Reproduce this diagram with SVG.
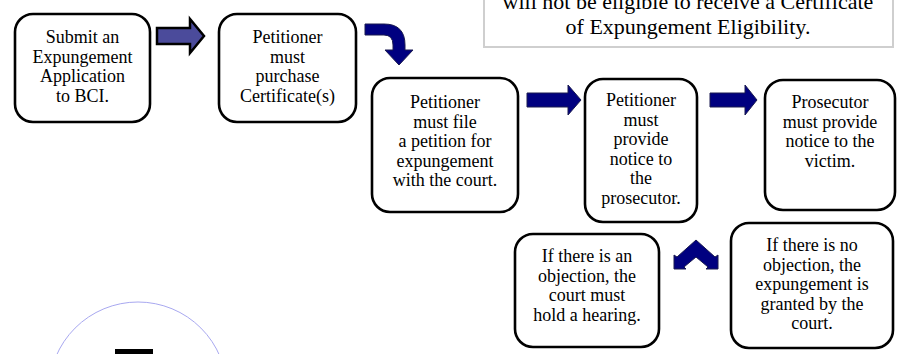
<svg xmlns="http://www.w3.org/2000/svg" width="897" height="354" viewBox="0 0 897 354">
<style>
.box{fill:#fff;stroke:#000;stroke-width:2.6}
.t{font-family:"Liberation Serif","Times New Roman",serif;font-size:18px;fill:#000;text-anchor:middle}
.tb{font-family:"Liberation Serif","Times New Roman",serif;font-size:22px;fill:#000;text-anchor:middle}
.nav{fill:#000080;stroke:#1a1a50;stroke-width:1}
</style>
<rect width="897" height="354" fill="#fff"/>
<g id="note">
<rect x="484" y="-10" width="409" height="57" fill="#fff" stroke="#cfcfcf" stroke-width="2"/>
<text class="tb" x="688" y="9">will not be eligible to receive a Certificate</text>
<text class="tb" x="688" y="34">of Expungement Eligibility.</text>
</g>
<g id="circle">
<circle cx="138" cy="391" r="89" fill="none" stroke="#a8a8f0" stroke-width="1"/>
<rect x="115" y="349" width="38" height="6" fill="#000"/>
</g>
<g id="connectors">
<polygon points="157,28 190,28 190,19 204,36 190,53 190,44 157,44" fill="#4b4b9b" stroke="#000" stroke-width="2.5" stroke-linejoin="miter"/>
<path class="nav" d="M365,24 H384 Q405,24 405,45 V50 H413 L399,65 L385,50 H393 V45 Q393,35 384,35 H365 Z"/>
<polygon class="nav" points="527,93 568,93 568,85 581,100 568,115 568,107 527,107"/>
<polygon class="nav" points="710,93 745,93 745,85 757,100 745,115 745,107 710,107"/>
<polygon class="nav" points="696,240 715,257 718,255 718,269 706,269 708,267 696,257 684,267 686,269 674,269 674,255 677,257"/>
</g>
<g id="n1">
<rect class="box" x="15" y="14" width="135" height="108" rx="18"/>
<text class="t" x="82.5" y="43">Submit an</text>
<text class="t" x="82.5" y="62.5">Expungement</text>
<text class="t" x="82.5" y="82">Application</text>
<text class="t" x="82.5" y="101.5">to BCI.</text>
</g>
<g id="n2">
<rect class="box" x="219" y="14" width="137" height="108" rx="18"/>
<text class="t" x="287.5" y="43">Petitioner</text>
<text class="t" x="287.5" y="62.5">must</text>
<text class="t" x="287.5" y="82">purchase</text>
<text class="t" x="287.5" y="101.5">Certificate(s)</text>
</g>
<g id="n3">
<rect class="box" x="372" y="78" width="146" height="134" rx="18"/>
<text class="t" x="445" y="108">Petitioner</text>
<text class="t" x="445" y="127.5">must file</text>
<text class="t" x="445" y="147">a petition for</text>
<text class="t" x="445" y="166.5">expungement</text>
<text class="t" x="445" y="186">with the court.</text>
</g>
<g id="n4">
<rect class="box" x="585" y="79" width="112" height="143" rx="18"/>
<text class="t" x="641" y="106">Petitioner</text>
<text class="t" x="641" y="125.5">must</text>
<text class="t" x="641" y="145">provide</text>
<text class="t" x="641" y="164.5">notice to</text>
<text class="t" x="641" y="184">the</text>
<text class="t" x="641" y="203.5">prosecutor.</text>
</g>
<g id="n5">
<rect class="box" x="765" y="80" width="130" height="130" rx="18"/>
<text class="t" x="830" y="108">Prosecutor</text>
<text class="t" x="830" y="127.5">must provide</text>
<text class="t" x="830" y="147">notice to the</text>
<text class="t" x="830" y="166.5">victim.</text>
</g>
<g id="n6">
<rect class="box" x="731" y="223" width="162" height="125" rx="18"/>
<text class="t" x="812" y="251">If there is no</text>
<text class="t" x="812" y="270.5">objection, the</text>
<text class="t" x="812" y="290">expungement is</text>
<text class="t" x="812" y="309.5">granted by the</text>
<text class="t" x="812" y="329">court.</text>
</g>
<g id="n7">
<rect class="box" x="515" y="234" width="144" height="113" rx="18"/>
<text class="t" x="587" y="262">If there is an</text>
<text class="t" x="587" y="281.5">objection, the</text>
<text class="t" x="587" y="301">court must</text>
<text class="t" x="587" y="320.5">hold a hearing.</text>
</g>
</svg>
